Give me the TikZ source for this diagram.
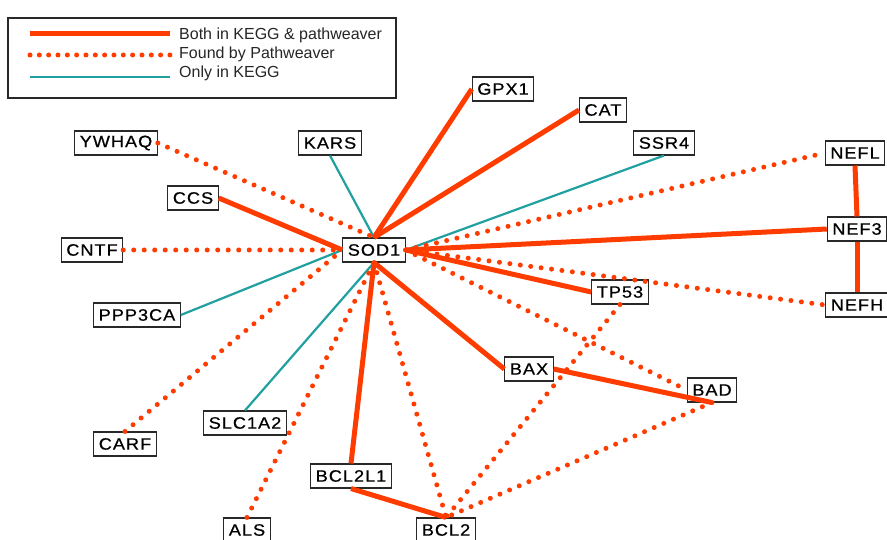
\documentclass[tikz,border=0pt]{standalone}
\usepackage{fontspec}
\setmainfont{Liberation Sans}
\newfontfamily\nodefont[FakeStretch=1.1,LetterSpace=6,FakeBold=0.6]{Liberation Sans}
\definecolor{pwred}{RGB}{255,60,0}
\definecolor{pwteal}{RGB}{32,160,160}
\definecolor{boxgray}{RGB}{40,40,40}
\begin{document}
\begin{tikzpicture}[x=1pt,y=-1pt,
  gene/.style={draw=boxgray,line width=1.1pt,fill=white,rectangle,minimum height=24pt,inner xsep=5pt,inner ysep=0pt,font=\nodefont\fontsize{16.5}{19}\selectfont,text=black},
  both/.style={draw=pwred,line width=5pt},
  found/.style={draw=pwred,line width=5pt,line cap=round,dash pattern=on 0pt off 10.5pt},
  kegg/.style={draw=pwteal,line width=2.2pt},
  legtext/.style={anchor=west,font=\fontsize{16}{18}\selectfont,text=black!85,inner sep=0pt}]
\useasboundingbox (0,0) rectangle (887,540);
\fill[white] (0,0) rectangle (887,540);
% legend
\node[draw=boxgray,line width=1.2pt,minimum width=388pt,minimum height=80pt,inner sep=0pt] (legend) at (202,58) {};
\coordinate (l1a) at (30,34); \coordinate (l1b) at (170,34);
\coordinate (l2a) at (30,55); \coordinate (l2b) at (170,55);
\coordinate (l3a) at (30,77); \coordinate (l3b) at (170,77);
\draw[both] (l1a) -- (l1b);
\draw[found,dash pattern=on 0pt off 9.33pt] (l2a) -- (l2b);
\draw[kegg] (l3a) -- (l3b);
\node[legtext] (t1) at (179,35) {Both in KEGG \& pathweaver};
\node[legtext] (t2) at (179,54) {Found by Pathweaver};
\node[legtext] (t3) at (179,73) {Only in KEGG};
% nodes
\node[gene] (sod) at (374,250) {SOD1};
\node[gene] (gpx) at (503,89) {GPX1};
\node[gene] (cat) at (603,110) {CAT};
\node[gene] (kars) at (330,143) {KARS};
\node[gene] (ssr) at (664,143) {SSR4};
\node[gene] (ywhaq) at (116,143) {YWHAQ};
\node[gene] (ccs) at (193,198) {CCS};
\node[gene] (cntf) at (92,250) {CNTF};
\node[gene] (ppp) at (137,315) {PPP3CA};
\node[gene] (carf) at (125,444) {CARF};
\node[gene] (nefl) at (855,153) {NEFL};
\node[gene] (nef3) at (857,229) {NEF3};
\node[gene] (nefh) at (857,305) {NEFH};
\node[gene] (tp53) at (620,292) {TP53};
\node[gene] (bax) at (529,369) {BAX};
\node[gene] (bad) at (712,390) {BAD};
\node[gene] (slc) at (245,423) {SLC1A2};
\node[gene] (bcl2l1) at (351,476) {BCL2L1};
\node[gene] (als) at (247,530) {ALS};
\node[gene] (bcl2) at (446,530) {BCL2};
% KEGG only
\draw[kegg] (kars.south) -- (sod.north);
\draw[kegg] (ssr.south) -- (sod.east);
\draw[kegg] (ppp.east) -- (sod.west);
\draw[kegg] (slc.north) -- (sod.south);
% found by pathweaver
\draw[found] (ywhaq.east) -- (sod.north);
\draw[found] (cntf.east) -- (sod.west);
\draw[found] (carf.north) -- (sod.west);
\draw[found] (als.north) -- (sod.south);
\draw[found] (sod.south) -- (bcl2.north);
\draw[found] (sod.east) -- (nefl.west);
\draw[found] (sod.east) -- (nefh.west);
\draw[found] (sod.east) -- (bad.west);
\draw[found] (tp53.south) -- (bcl2.north);
\draw[found] (bad.south) -- (bcl2.north);
% both
\draw[both] (sod.north) -- (gpx.west);
\draw[both] (sod.north) -- (cat.west);
\draw[both] (ccs.east) -- (sod.west);
\draw[both] (sod.east) -- (nef3.west);
\draw[both] (sod.east) -- (tp53.west);
\draw[both] (sod.south) -- (bax.west);
\draw[both] (sod.south) -- (bcl2l1.north);
\draw[both] (bcl2l1.south) -- (bcl2.north);
\draw[both] (bax.east) -- (bad.south);
\draw[both] (nefl.south) -- (nef3.north);
\draw[both] (nef3.south) -- (nefh.north);
\end{tikzpicture}
\end{document}
